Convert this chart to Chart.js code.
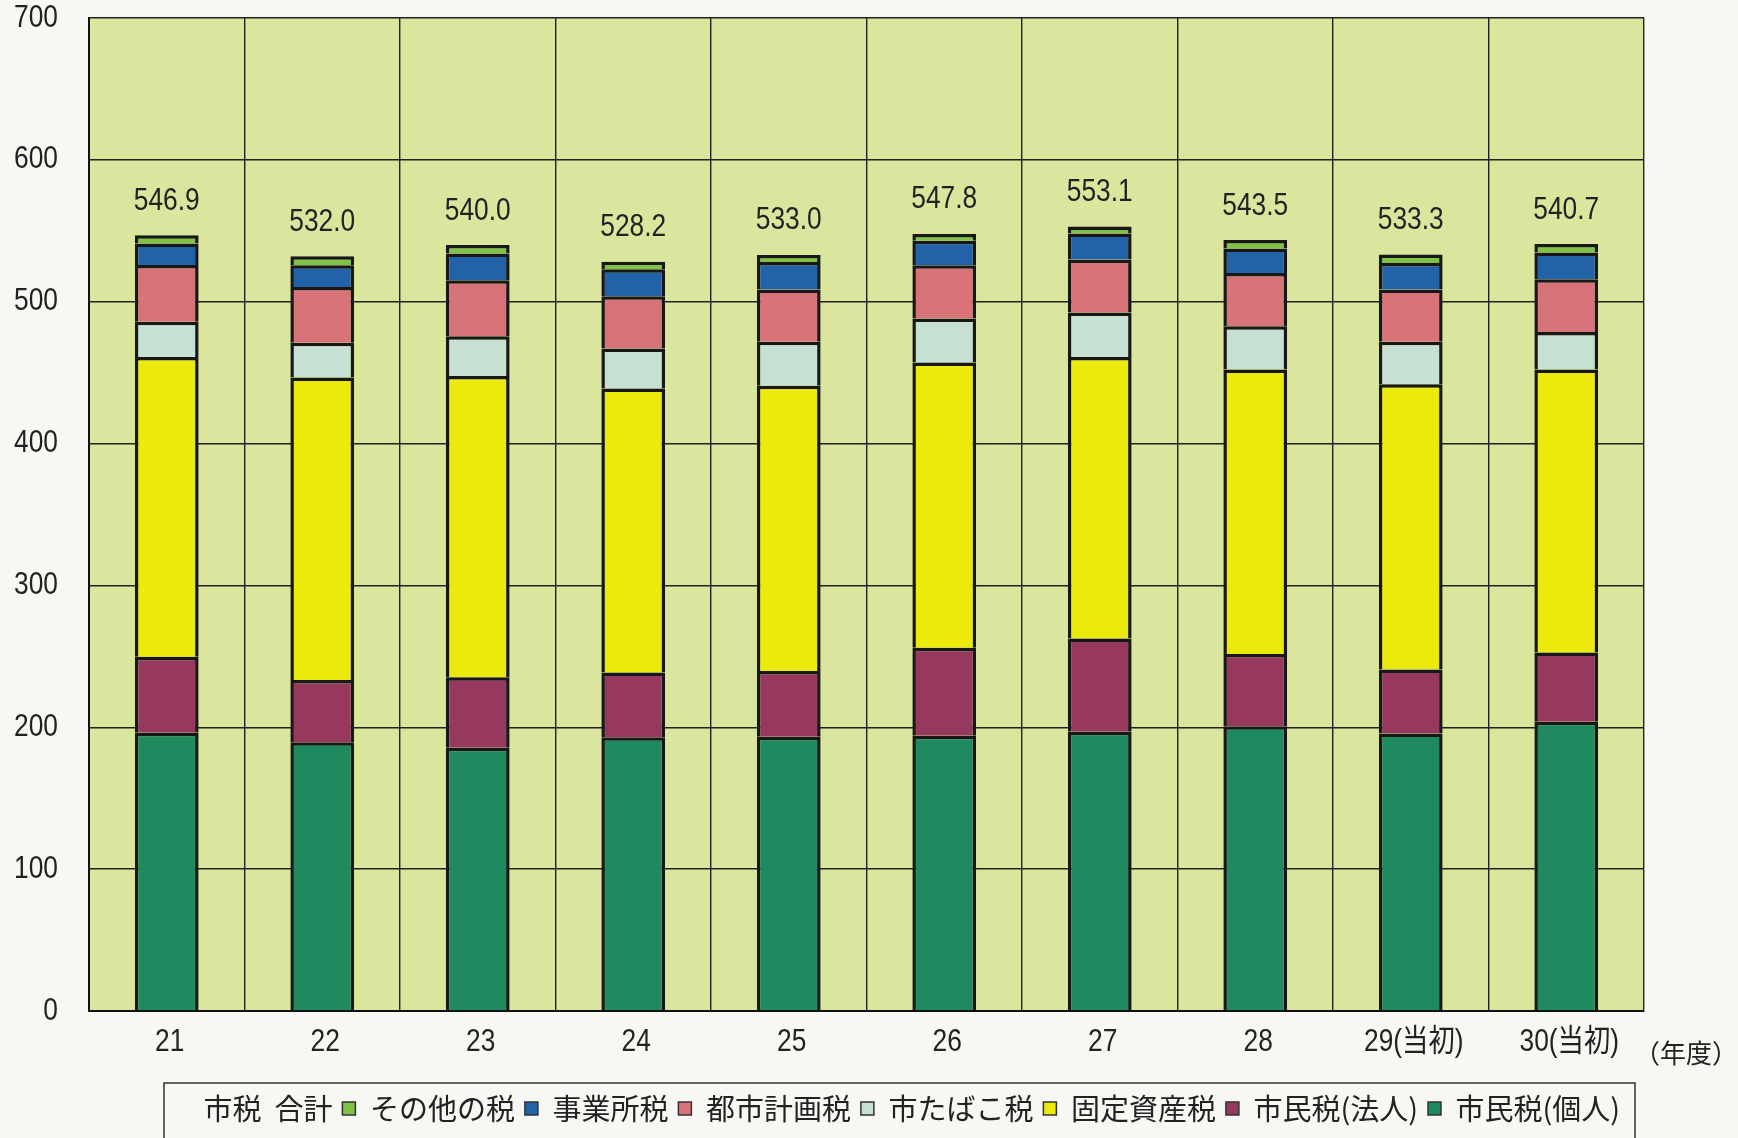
<!DOCTYPE html>
<html lang="ja">
<head>
<meta charset="UTF-8">
<title>市税の推移</title>
<script src="https://cdn.jsdelivr.net/npm/chart.js@4.4.0/dist/chart.umd.min.js"></script>
<style>
    html, body { margin: 0; padding: 0; background: #f7f7f4; }
    #taxChart { display: block; }
</style>
</head>
<body>
<canvas id="taxChart" width="1738" height="1138"></canvas>
<script>
// 年度ラベル
const years = ['21', '22', '23', '24', '25', '26', '27', '28', '29(当初)', '30(当初)'];

// 税目別の額（億円）
const kojin  = [196.1, 189.4, 185.6, 192.9, 193.3, 194.0, 196.8, 200.8, 195.7, 203.9];
const hojin  = [53.6, 43.9, 49.6, 45.8, 46.3, 62.0, 65.8, 50.8, 45.1, 48.9];
const kotei  = [211.4, 213.3, 212.5, 200.1, 201.1, 201.1, 198.5, 200.6, 201.1, 199.4];
const tabako = [24.7, 24.4, 28.0, 28.2, 31.0, 31.0, 31.3, 30.5, 29.8, 26.5];
const toshi  = [40.0, 39.4, 39.5, 36.9, 36.9, 37.6, 37.3, 37.6, 36.9, 37.2];
const jigyo  = [15.3, 15.3, 18.8, 19.0, 19.4, 17.2, 18.3, 17.2, 18.7, 18.8];
const sonota = [5.8, 6.3, 6.0, 5.3, 5.0, 4.9, 5.1, 6.0, 6.0, 6.0];

// 市税合計
const totals = [546.9, 532.0, 540.0, 528.2, 533.0, 547.8, 553.1, 543.5, 533.3, 540.7];

// 目盛
const yTicks = [0, 100, 200, 300, 400, 500, 600, 700];

const numFont = "31px 'Liberation Sans', 'Noto Sans CJK JP', sans-serif";
const jpFont = "'Noto Sans CJK JP', 'Noto Sans', sans-serif";
const edge = '#181818';

function barSet(label, data, color) {
    return {
        type: 'bar',
        label: label,
        data: data,
        backgroundColor: color,
        borderColor: edge,
        borderWidth: 3.5,
        borderSkipped: 'start',
        barPercentage: 0.41,
        categoryPercentage: 1.0,
        stack: 'tax'
    };
}

// 細長い数字（横方向に縮めて描く）
function narrowText(ctx, text, x, y, align) {
    ctx.save();
    ctx.translate(x, y);
    ctx.scale(0.85, 1);
    ctx.font = numFont;
    ctx.fillStyle = '#222';
    ctx.textAlign = align;
    ctx.textBaseline = 'middle';
    ctx.fillText(text, 0, 0);
    ctx.restore();
}

// 背景（用紙と描画領域）
const backdrop = {
    id: 'backdrop',
    beforeDraw(chart) {
        const { ctx, chartArea: a } = chart;
        ctx.save();
        ctx.fillStyle = '#f7f7f4';
        ctx.fillRect(0, 0, chart.width, chart.height);
        ctx.fillStyle = '#dae59d';
        ctx.fillRect(a.left, a.top, a.right - a.left, a.bottom - a.top);
        ctx.restore();
    }
};

// 凡例の位置を枠に合わせる
const legendBox = {
    id: 'legendBox',
    afterLayout(chart) {
        const lg = chart.legend;
        lg.left = 136;
        lg.right = 1660;
        lg.width = lg.right - lg.left;
    }
};

// 目盛ラベル・合計値ラベル・年度表記・凡例枠
const extras = {
    id: 'extras',
    afterDatasetsDraw(chart) {
        const ctx = chart.ctx;
        const idx = chart.data.datasets.findIndex(d => d.type === 'line');
        const meta = chart.getDatasetMeta(idx);
        meta.data.forEach((pt, i) => {
            narrowText(ctx, totals[i].toFixed(1), pt.x, pt.y - 34, 'center');
        });
    },
    afterDraw(chart) {
        const ctx = chart.ctx;
        const a = chart.chartArea;
        const xs = chart.scales.x;
        const ys = chart.scales.y;

        ys.ticks.forEach((t, i) => {
            narrowText(ctx, String(t.value), ys.right - 31, ys.getPixelForTick(i), 'right');
        });
        xs.ticks.forEach((t, i) => {
            narrowText(ctx, xs.getLabelForValue(t.value), xs.getPixelForTick(i) + 3, xs.top + 31, 'center');
        });

        ctx.save();
        ctx.font = '26px ' + jpFont;
        ctx.fillStyle = '#222';
        ctx.textAlign = 'left';
        ctx.textBaseline = 'middle';
        ctx.fillText('（年度）', a.right - 10, a.bottom + 42);

        const lg = chart.legend;
        ctx.strokeStyle = '#333';
        ctx.lineWidth = 1.5;
        ctx.strokeRect(164, lg.top - 1, 1471, chart.height);
        ctx.restore();
    }
};

// Initialize Chart
const ctx = document.getElementById('taxChart').getContext('2d');

if (typeof Chart !== 'undefined') {
    const taxChart = new Chart(ctx, {
        data: {
            labels: years,
            datasets: [
                barSet('市民税(個人)', kojin, '#1f8a5f'),
                barSet('市民税(法人)', hojin, '#97395f'),
                barSet('固定資産税', kotei, '#ebea0c'),
                barSet('市たばこ税', tabako, '#c6e0d3'),
                barSet('都市計画税', toshi, '#d9737a'),
                barSet('事業所税', jigyo, '#2162a8'),
                barSet('その他の税', sonota, '#7fc247'),
                {
                    type: 'line',
                    label: '市税  合計',
                    data: totals,
                    showLine: false,
                    pointRadius: 0,
                    pointHoverRadius: 0,
                    borderColor: 'transparent',
                    backgroundColor: 'transparent'
                }
            ]
        },
        options: {
            responsive: false,
            animation: false,
            layout: {
                padding: { top: 18, right: 94, left: 0, bottom: 5 }
            },
            plugins: {
                tooltip: { enabled: false },
                legend: {
                    position: 'bottom',
                    reverse: true,
                    labels: {
                        color: '#222',
                        font: { family: jpFont, size: 29 },
                        boxWidth: 13,
                        boxHeight: 13,
                        padding: 10,
                        generateLabels(chart) {
                            const items = Chart.defaults.plugins.legend.labels.generateLabels(chart);
                            return items.map(it => {
                                if (it.text !== '市税  合計') {
                                    it.lineWidth = 1.5;
                                    it.strokeStyle = '#333';
                                }
                                return it;
                            });
                        }
                    }
                }
            },
            scales: {
                x: {
                    stacked: true,
                    grid: {
                        offset: true,
                        color: '#222',
                        lineWidth: 1.4,
                        drawTicks: false
                    },
                    border: { color: '#111', width: 2 },
                    ticks: { display: false },
                    afterFit(scale) { scale.height = 73; }
                },
                y: {
                    stacked: true,
                    min: 0,
                    max: 700,
                    afterBuildTicks(scale) {
                        scale.ticks = yTicks.map(v => ({ value: v }));
                    },
                    grid: {
                        color: '#222',
                        lineWidth: 1.4,
                        drawTicks: false
                    },
                    border: { color: '#111', width: 2 },
                    ticks: { display: false },
                    afterFit(scale) {
                        scale.width = 89;
                        scale.paddingTop = 0;
                        scale.paddingBottom = 0;
                    }
                }
            }
        },
        plugins: [backdrop, legendBox, extras]
    });
}
</script>
</body>
</html>
